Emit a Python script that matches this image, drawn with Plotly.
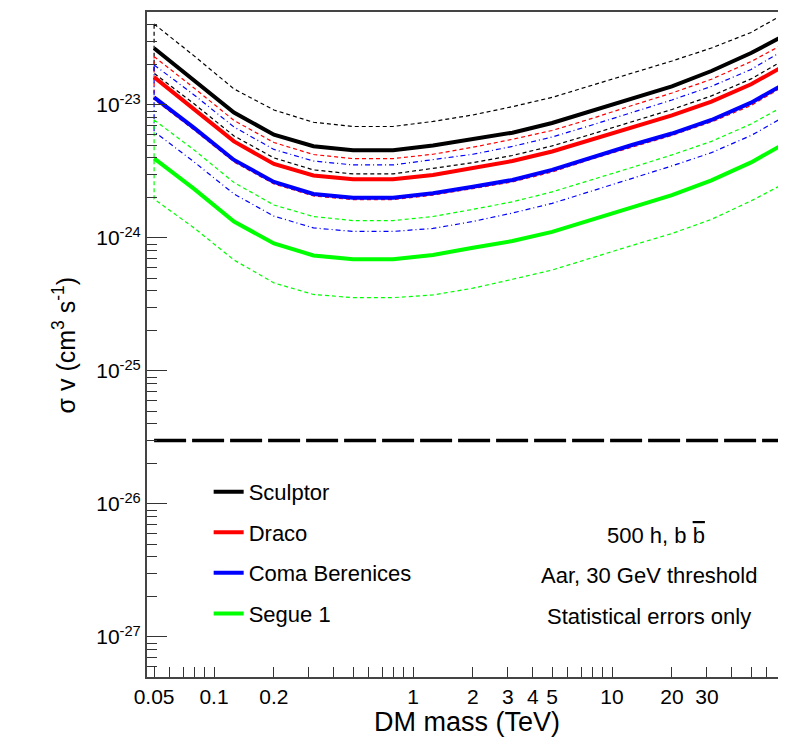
import plotly.graph_objects as go

# ---------------- data ----------------
mass_tev = [0.05, 0.0794, 0.126, 0.2, 0.316, 0.5, 0.794, 1.26, 2.0, 3.16,
            5.0, 7.94, 12.6, 20.0, 31.6, 50.0, 79.4]

sculptor = [2.67e-23, 1.54e-23, 8.78e-24, 5.98e-24, 4.89e-24, 4.56e-24, 4.56e-24, 4.96e-24, 5.55e-24,
            6.19e-24, 7.32e-24, 9.01e-24, 1.11e-23, 1.38e-23, 1.80e-23, 2.46e-23, 3.54e-23]
sculptor_hi = [4.06e-23, 2.34e-23, 1.32e-23, 9.17e-24, 7.41e-24, 6.89e-24, 6.89e-24, 7.52e-24, 8.41e-24,
               9.71e-24, 1.14e-23, 1.41e-23, 1.74e-23, 2.14e-23, 2.68e-23, 3.51e-23, 5.18e-23]
sculptor_lo = [1.73e-23, 1.02e-23, 5.85e-24, 4.00e-24, 3.25e-24, 3.03e-24, 3.03e-24, 3.34e-24, 3.68e-24,
               4.17e-24, 4.92e-24, 6.05e-24, 7.45e-24, 9.25e-24, 1.17e-23, 1.57e-23, 2.34e-23]

draco = [1.62e-23, 9.33e-24, 5.32e-24, 3.60e-24, 2.95e-24, 2.76e-24, 2.76e-24, 2.98e-24, 3.34e-24,
         3.79e-24, 4.47e-24, 5.50e-24, 6.77e-24, 8.34e-24, 1.06e-23, 1.43e-23, 2.11e-23]
draco_hi = [2.31e-23, 1.34e-23, 7.65e-24, 5.22e-24, 4.24e-24, 3.95e-24, 3.95e-24, 4.26e-24, 4.81e-24,
            5.52e-24, 6.43e-24, 7.92e-24, 9.91e-24, 1.23e-23, 1.56e-23, 2.12e-23, 3.08e-23]
draco_lo = [1.10e-23, 6.49e-24, 3.73e-24, 2.55e-24, 2.07e-24, 1.94e-24, 1.94e-24, 2.10e-24, 2.35e-24,
            2.64e-24, 3.13e-24, 3.93e-24, 4.83e-24, 5.90e-24, 7.45e-24, 9.91e-24, 1.49e-23]

coma = [1.14e-23, 6.72e-24, 3.86e-24, 2.64e-24, 2.14e-24, 2.01e-24, 2.01e-24, 2.17e-24, 2.43e-24,
        2.73e-24, 3.25e-24, 4.06e-24, 5.00e-24, 6.10e-24, 7.71e-24, 1.04e-23, 1.54e-23]
coma_hi = [2.00e-23, 1.19e-23, 6.83e-24, 4.63e-24, 3.79e-24, 3.54e-24, 3.54e-24, 3.86e-24, 4.26e-24,
           4.88e-24, 5.74e-24, 7.07e-24, 8.78e-24, 1.09e-23, 1.38e-23, 1.85e-23, 2.78e-23]
coma_lo = [6.30e-24, 3.73e-24, 2.14e-24, 1.46e-24, 1.19e-24, 1.12e-24, 1.12e-24, 1.18e-24, 1.33e-24,
           1.54e-24, 1.82e-24, 2.24e-24, 2.80e-24, 3.48e-24, 4.38e-24, 5.90e-24, 8.71e-24]

segue = [3.97e-24, 2.34e-24, 1.33e-24, 9.09e-25, 7.39e-25, 6.92e-25, 6.92e-25, 7.45e-25, 8.45e-25,
         9.49e-25, 1.11e-24, 1.37e-24, 1.70e-24, 2.10e-24, 2.71e-24, 3.70e-24, 5.46e-24]
segue_hi = [7.71e-24, 4.59e-24, 2.61e-24, 1.77e-24, 1.45e-24, 1.35e-24, 1.35e-24, 1.45e-24, 1.64e-24,
            1.87e-24, 2.22e-24, 2.73e-24, 3.39e-24, 4.21e-24, 5.32e-24, 7.20e-24, 1.05e-23]
segue_lo = [1.96e-24, 1.19e-24, 6.83e-25, 4.59e-25, 3.76e-25, 3.56e-25, 3.56e-25, 3.73e-25, 4.19e-25,
            4.89e-25, 5.74e-25, 7.07e-25, 8.78e-25, 1.08e-24, 1.38e-24, 1.90e-24, 2.73e-24]

thermal_sigmav = 3e-26
thermal_mass_span = [0.05, 100.0]

x_label_vals = [0.05, 0.1, 0.2, 1, 2, 3, 4, 5, 10, 20, 30]
x_label_text = ["0.05", "0.1", "0.2", "1", "2", "3", "4", "5", "10", "20", "30"]
x_decades = [0.1, 1, 10]
x_minor = [0.06, 0.07, 0.08, 0.09, 0.3, 0.4, 0.5, 0.6, 0.7, 0.8, 0.9,
           6, 7, 8, 9, 40, 50, 60, 70]
y_major = [1e-27, 1e-26, 1e-25, 1e-24, 1e-23]
y_major_text = ["10<sup>-27</sup>", "10<sup>-26</sup>", "10<sup>-25</sup>",
                "10<sup>-24</sup>", "10<sup>-23</sup>"]
y_minor = [m * d for d in [1e-28, 1e-27, 1e-26, 1e-25, 1e-24, 1e-23] for m in range(2, 10)]

sources = [
    ("Sculptor", "#000000", sculptor, sculptor_hi, sculptor_lo, "4px,3px"),
    ("Draco", "#ff0000", draco, draco_hi, draco_lo, "4px,3px"),
    ("Coma Berenices", "#0000ff", coma, coma_hi, coma_lo, "5px,3px,1px,3px"),
    ("Segue 1", "#00ff00", segue, segue_hi, segue_lo, "4px,3px"),
]

FONT = "Liberation Sans, Arial, Helvetica, sans-serif"

fig = go.Figure()

# uncertainty bands drawn as closed dashed outlines
for name, col, mid, hi, lo, dash in sources:
    bx = mass_tev + mass_tev[::-1] + [mass_tev[0]]
    by = hi + lo[::-1] + [hi[0]]
    fig.add_trace(go.Scatter(x=bx, y=by, mode="lines", showlegend=False,
                             line=dict(color=col, width=1.2, dash=dash),
                             hoverinfo="skip"))

# thermal relic cross-section
fig.add_trace(go.Scatter(x=thermal_mass_span, y=[thermal_sigmav, thermal_sigmav],
                         mode="lines", showlegend=False,
                         line=dict(color="black", width=3.5, dash="32px,6px")))

# central curves
for i, (name, col, mid, hi, lo, dash) in enumerate(sources):
    fig.add_trace(go.Scatter(x=mass_tev, y=mid, mode="lines", name=name,
                             legendgroup=f"g{i}",
                             line=dict(color=col, width=4)))

# the page body adds an 8px offset, so the figure is laid out 8px smaller
fig.update_layout(
    width=778, height=738,
    margin=dict(l=139, r=0, t=4, b=69),
    paper_bgcolor="white", plot_bgcolor="white",
    font=dict(family=FONT, size=20, color="black"),
    showlegend=True,
    legend=dict(x=0.0965, y=0.31, xanchor="left", yanchor="top",
                bgcolor="rgba(0,0,0,0)", font=dict(size=22, family=FONT),
                tracegroupgap=9, itemwidth=30),
    xaxis=dict(type="log", range=[-1.3367, 1.8744], showgrid=False, zeroline=False,
               automargin=False,
               showline=True, linecolor="#444", linewidth=2, mirror=True,
               ticks="inside", ticklen=10, tickcolor="#333", tickwidth=1,
               tickmode="array", tickvals=x_label_vals, ticktext=x_label_text,
               tickfont=dict(size=21, family=FONT),
               minor=dict(ticks="inside", ticklen=10, tickcolor="#333", tickwidth=1,
                          tickmode="array", tickvals=x_minor, showgrid=False)),
    xaxis2=dict(type="log", range=[-1.3367, 1.8744], overlaying="x", anchor="y",
                automargin=False,
                side="bottom", showgrid=False, zeroline=False, showline=False,
                ticks="inside", ticklen=19, tickcolor="#333", tickwidth=1,
                tickmode="array", tickvals=x_decades, showticklabels=False),
    yaxis=dict(type="log", range=[-27.301, -22.301], showgrid=False, zeroline=False,
               automargin=False,
               showline=True, linecolor="#444", linewidth=2,
               ticks="inside", ticklen=20, tickcolor="#333", tickwidth=1,
               tickmode="array", tickvals=y_major, ticktext=y_major_text,
               tickfont=dict(size=21, family=FONT),
               minor=dict(ticks="inside", ticklen=10, tickcolor="#333", tickwidth=1,
                          tickmode="array", tickvals=y_minor, showgrid=False)),
    annotations=[
        dict(text="σ v (cm<sup>3</sup> s<sup>-1</sup>)", textangle=-90,
             xref="paper", yref="paper", x=-0.13, y=0.5, xanchor="center", yanchor="middle",
             showarrow=False, font=dict(size=25, family=FONT)),
        dict(text="DM mass (TeV)",
             xref="paper", yref="paper", x=0.5, y=(677 - 722) / 665,
             xanchor="center", yanchor="middle", showarrow=False, font=dict(size=27, family=FONT)),
        dict(text="500 h, b <span style='text-decoration:overline'>b</span>",
             xref="paper", yref="paper", x=0.797, y=(677 - 535) / 665,
             xanchor="center", yanchor="middle", showarrow=False, font=dict(size=22, family=FONT)),
        dict(text="Aar, 30 GeV threshold",
             xref="paper", yref="paper", x=0.786, y=(677 - 575) / 665,
             xanchor="center", yanchor="middle", showarrow=False, font=dict(size=22, family=FONT)),
        dict(text="Statistical errors only",
             xref="paper", yref="paper", x=0.786, y=(677 - 616) / 665,
             xanchor="center", yanchor="middle", showarrow=False, font=dict(size=22, family=FONT)),
    ],
)

fig.write_html("out.html")
